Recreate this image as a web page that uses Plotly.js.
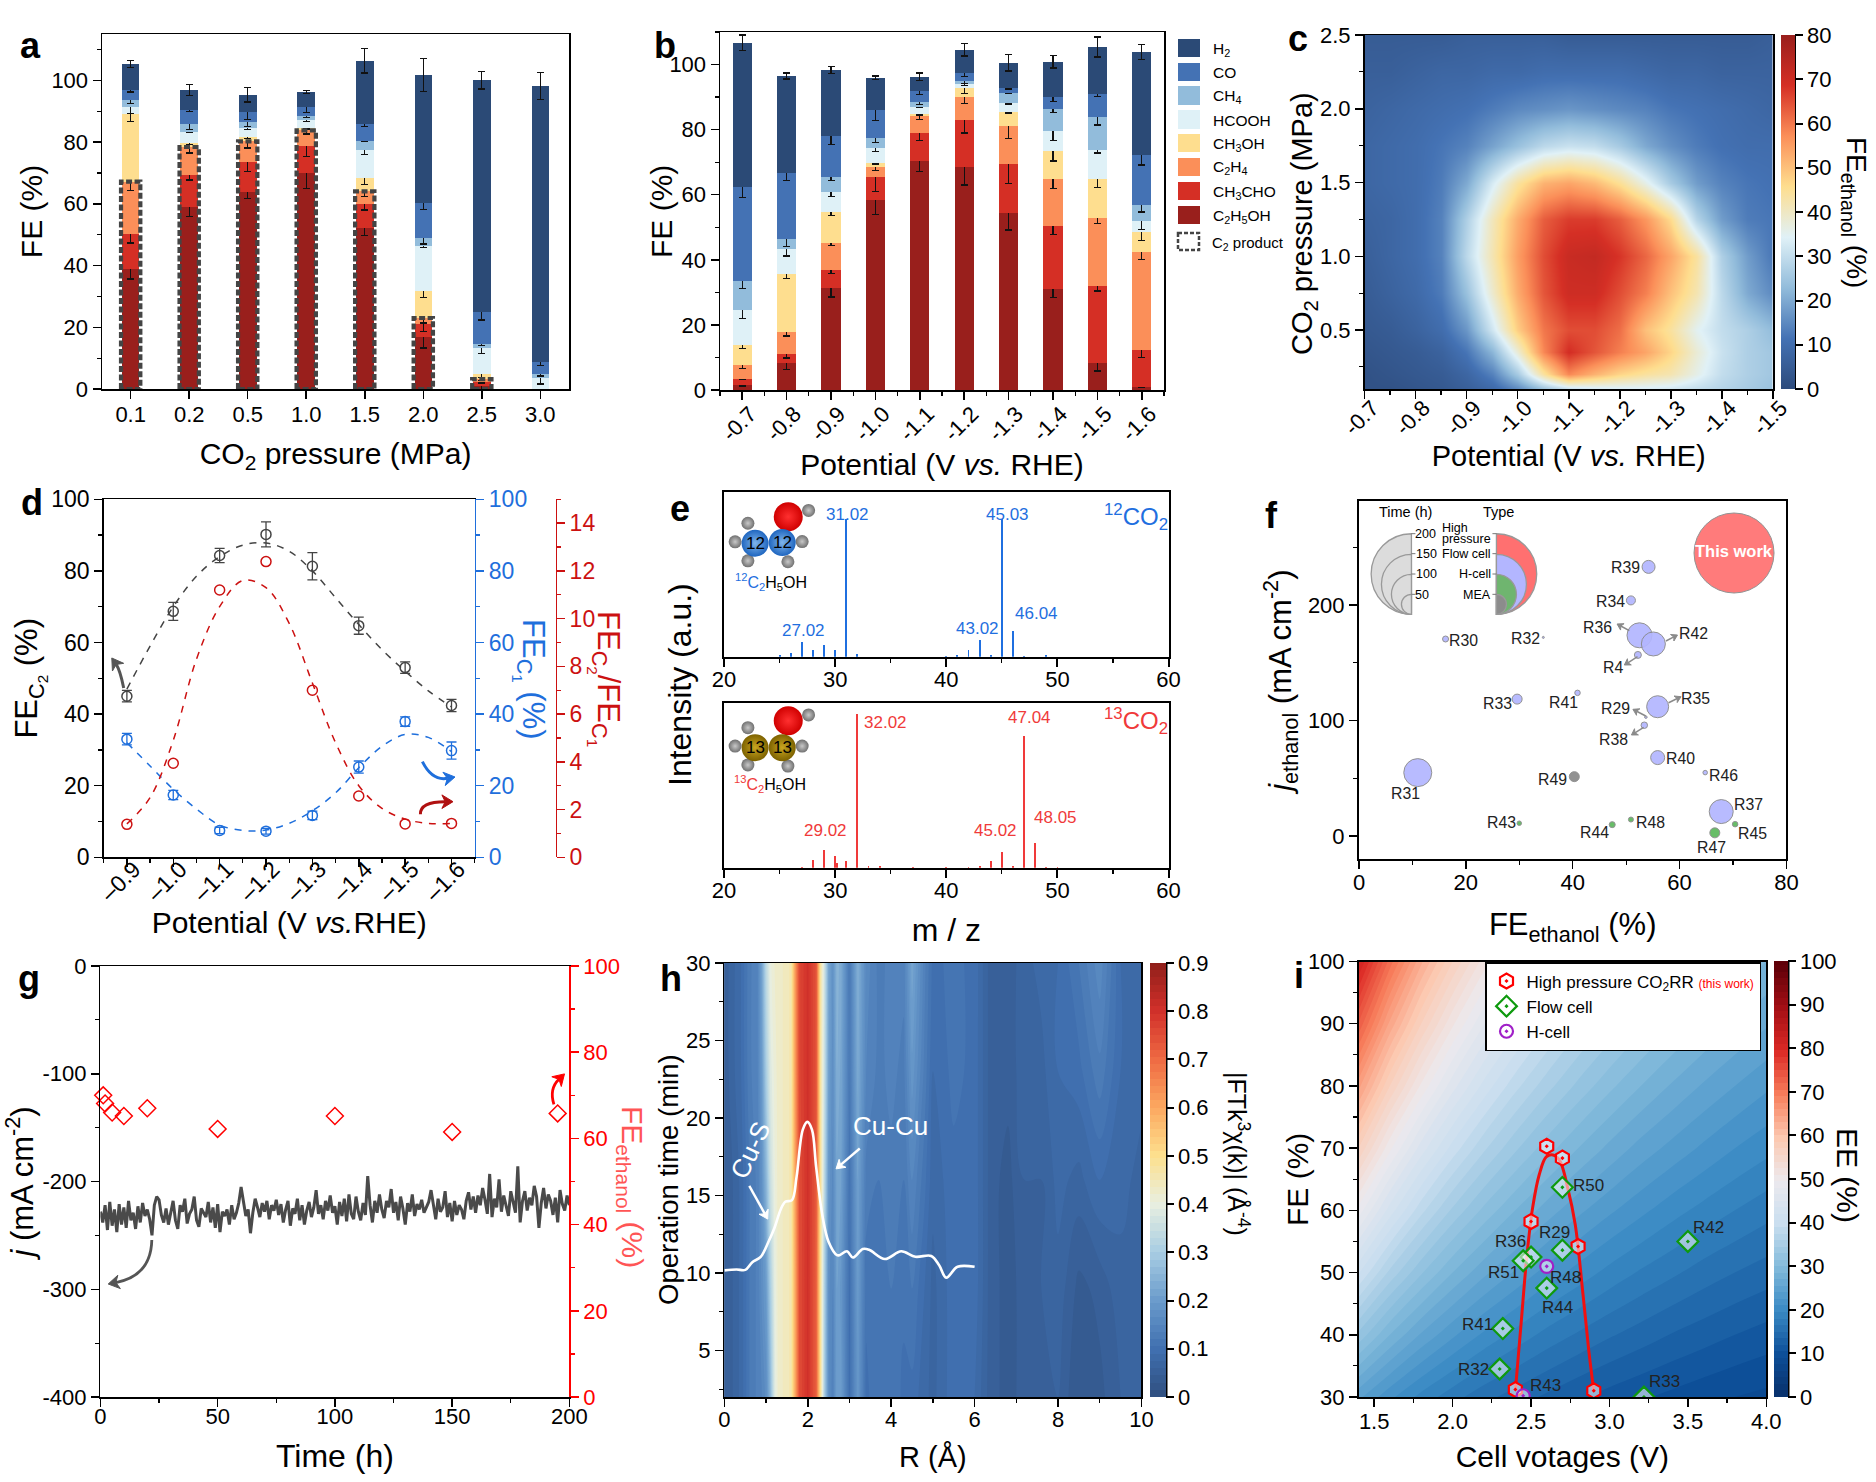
<!DOCTYPE html>
<html><head><meta charset="utf-8">
<script src="https://cdn.plot.ly/plotly-3.0.1.min.js"></script>
<style>html,body{margin:0;padding:0;background:#fff}#p{width:1876px;height:1482px}</style></head>
<body><div id="p"></div>
<script>
// ---------- DATA ----------
const productNames=['C2H5OH','CH3CHO','C2H4','CH3OH','HCOOH','CH4','CO','H2'];
const productColors=['#991f1c','#d52f25','#fb8f59','#fede8f','#dff1f7','#92bcdb','#4472b4','#2b4a76'];
const productLabels=['C<sub>2</sub>H<sub>5</sub>OH','CH<sub>3</sub>CHO','C<sub>2</sub>H<sub>4</sub>','CH<sub>3</sub>OH','HCOOH','CH<sub>4</sub>','CO','H<sub>2</sub>'];
// panel a
const aTicks=['0.1','0.2','0.5','1.0','1.5','2.0','2.5','3.0'];
const aC2H5OH=[38.9,59.0,63.9,70.1,52.3,17.0,1.0,0];
const aCH3CHO=[11.4,10.4,9.7,8.6,7.7,4.1,1.4,0];
const aC2H4=[16.9,9.0,6.6,5.1,4.0,1.9,0.8,0];
const aCH3OH=[21.9,1.2,1.5,0.8,4.4,8.8,1.8,0];
const aHCOOH=[2.1,3.7,2.8,2.4,9.1,14.4,8.3,3.7];
const aCH4=[2.4,2.6,2.0,1.5,2.9,2.8,1.2,1.3];
const aCO=[3.3,4.5,3.3,2.9,5.5,11.3,10.5,3.6];
const aH2=[8.4,6.5,5.5,4.8,20.4,41.4,75,89.5];
const aErrC2H5OH=[3.3,3.1,2.2,5.2,2.5,3.7,2.2,0];
const aErrCH3CHO=[3,1.7,3.1,3.3,2,2.5,0.5,0];
const aErrC2H4=[2.8,1.9,2.1,1.2,1.7,1.6,0.4,0];
const aErrCH3OH=[2.4,0.5,0.6,0.4,2.1,2.2,1.2,0];
const aErrHCOOH=[2,0.3,0.5,0.4,1.5,0.3,1.7,2.1];
const aErrCH4=[1,1.9,1.5,0.5,0.2,2,0.3,0.8];
const aErrCO=[0.7,0.6,2.6,1.8,0.9,2.1,2.6,1];
const aErrH2=[1.2,1.8,2.3,0.5,3.9,5.3,2.8,4.4];
// panel b
const bTicks=['-0.7','-0.8','-0.9','-1.0','-1.1','-1.2','-1.3','-1.4','-1.5','-1.6'];
const bC2H5OH=[1.6,8.2,31.2,58.3,70.3,68.5,54.3,30.9,8.2,1.0];
const bCH3CHO=[1.9,3.0,5.6,7.1,8.7,14.5,15.1,19.4,23.9,11.4];
const bC2H4=[4.3,6.5,8.3,3.1,5.2,7.0,11.7,14.5,20.7,29.9];
const bCH3OH=[6.1,17.8,9.5,1.2,0.6,2.8,4.3,8.6,12.0,6.2];
const bHCOOH=[10.8,7.7,6.2,4.6,2.2,1.2,2.8,6.2,8.9,3.3];
const bCH4=[8.7,3.1,4.6,3.1,1.5,1.0,3.1,6.7,10.2,5.0];
const bCO=[28.9,20.3,12.6,8.6,3.4,2.4,1.5,3.7,7.1,15.4];
const bH2=[44.4,29.9,20.4,9.9,4.3,7.1,7.7,10.8,14.4,31.7];
const bErrC2H5OH=[0.4,1.9,2.6,4.3,3.2,5.5,5.1,2.4,2.4,0.3];
const bErrCH3CHO=[0.3,1.4,1.1,4.4,2.4,4.0,6.0,2.6,1.7,2.4];
const bErrC2H4=[1.2,1.1,0.8,1.0,1.0,2.0,3.8,2.9,1.7,2.3];
const bErrCH3OH=[1.1,1.3,1.0,0.3,0.3,1.8,0.3,3.0,2.5,2.5];
const bErrHCOOH=[2.8,2.0,1.4,1.1,0.3,0.4,0.3,3.0,0.9,2.5];
const bErrCH4=[2.2,2.1,1.0,1.3,0.7,0.8,0.3,1.0,2.5,2.1];
const bErrCO=[3.1,2.3,2.5,3.1,1.2,1.0,0.3,1.3,0.9,3.1];
const bErrH2=[2.4,0.9,1.1,0.6,1.2,1.9,2.5,1.9,3.1,2.3];
// panel c
const cPotential=[-0.7,-0.75,-0.8,-0.85,-0.9,-0.95,-1,-1.05,-1.1,-1.15,-1.2,-1.25,-1.3,-1.35,-1.4,-1.45,-1.5];
const cPressure=[0.1,0.2,0.35,0.5,0.75,1,1.25,1.5,1.75,2,2.25,2.5];
const cFE=[
[2,2,3,4,6,9,15,24,30,32,33,33,32,30,28,26,24],
[2,3,4,5,8,14,26,44,58,52,47,44,42,36,30,27,25],
[3,4,5,7,12,22,38,58,69,64,59,54,47,38,31,27,25],
[4,5,7,10,17,32,48,60,65,65,61,50,44,35,30,27,23],
[5,7,9,13,24,39,53,64,70,70,65,59,50,42,29,20,15],
[6,8,10,14,29,42,55,65,71,72,68,62,54,44,27,18,12],
[7,8,10,14,27,41,53,63,67,67,63,56,46,28,18,13,12],
[8,9,10,13,20,33,44,52,54,51,45,36,26,18,14,12,11],
[8,9,10,12,14,19,24,29,31,30,26,20,16,13,11,10,10],
[7,8,9,10,11,13,15,16,17,16,15,14,12,11,10,9,8],
[6,6,7,8,8,9,9,10,10,10,10,9,8,8,7,7,7],
[5,5,5,5,6,6,6,6,5,5,5,5,5,5,5,5,6]];
const cxTicks=['-0.7','-0.8','-0.9','-1.0','-1.1','-1.2','-1.3','-1.4','-1.5'];
const cxTickVals=[-0.7,-0.8,-0.9,-1.0,-1.1,-1.2,-1.3,-1.4,-1.5];
// panel d
const dV=[-0.9,-1.0,-1.1,-1.2,-1.3,-1.4,-1.5,-1.6];
const dTicks=['\u20130.9','\u20131.0','\u20131.1','\u20131.2','\u20131.3','\u20131.4','\u20131.5','\u20131.6'];
const dC2=[45,68.7,84.3,90.2,81.3,64.7,53,42.4];
const dC2Err=[1.6,2.5,2,3.5,3.8,2.4,1.6,1.7];
const dC1=[33,17.4,7.5,7.3,11.7,25.2,37.9,29.8];
const dC1Err=[1.6,1.3,0.9,0.8,1.2,1.7,1.3,2.4];
const dRatio=[1.38,3.94,11.2,12.39,7.0,2.57,1.4,1.42];
const dFitV=[-0.9,-0.95,-1,-1.05,-1.1,-1.15,-1.2,-1.25,-1.3,-1.35,-1.4,-1.45,-1.5,-1.55,-1.6];
const dFitC2=[47,59,70,78.5,84,87.2,87.8,85.5,80,72.5,65,58,52,46.5,42];
const dFitC1=[32,25.5,19,13.5,9,7.5,7.6,9.5,13,18,25,31,34.3,33.5,29.5];
const dFitRatio=[1.4,2.5,4.9,8.3,10.5,11.6,11.3,9.8,7.3,4.8,3.0,2.05,1.6,1.42,1.42];
// panel e
const e12mz=[25,26,27,28,29,30,31,32,40,41,42,43,44,45,46,47,49];
const e12I=[1,2.6,10.5,5,8.5,5,100,2,0.5,1,5,12,1.5,100,19,0.5,1];
const e13mz=[27,28,29,30,30.2,31,32,33,34,37,40,42,43,44,45,46,47,48,49,50];
const e13I=[0.6,5,11.5,7.5,3,4.5,100,1,1,0.7,0.7,0.6,1,4.5,10,1,86,16,0.5,0.3];
// panel f
const fNames=['This work','R39','R34','R30','R32','R36','R42','R4','R33','R41','R35','R29','R38','R40','R46','R49','R31','R37','R45','R47','R44','R48','R43'];
const fFE=[70.2,54.2,50.9,16.2,34.5,52.5,55.1,52.2,29.6,40.9,55.9,53.7,53.4,55.9,64.8,40.3,11,67.8,70.4,66.6,47.4,50.9,30];
const fJ=[245,233,204,170.6,172,173.8,166.3,156.8,118.6,124,112,103,96,68,55,51.5,55,21.3,10.4,2.9,10,14.4,11.2];
const fTime=[80,13,9,6,2,25,24,7,10,5.5,22,2.5,6.5,14,4.5,10,28,24,5.5,10,6,5,4.5];
const fType=['red','flow','flow','flow','flow','flow','flow','flow','flow','flow','flow','flow','flow','flow','flow','mea','flow','flow','h','h','h','h','h'];
// panel g
const gJ=[-228,-238,-222,-245,-219,-241,-226,-247,-221,-240,-224,-243,-218,-236,-229,-244,-223,-238,-220,-232,
-226,-235,-250,-222,-214,-217,-231,-238,-225,-240,-229,-218,-236,-244,-222,-228,-216,-239,-230,-226,
-214,-236,-242,-225,-229,-233,-219,-238,-224,-243,-221,-247,-228,-232,-226,-240,-222,-235,-229,-220,
-205,-218,-232,-226,-248,-229,-216,-224,-233,-220,-228,-218,-235,-222,-227,-217,-231,-221,-238,-226,
-218,-241,-225,-230,-216,-236,-222,-240,-227,-219,-233,-224,-208,-230,-222,-235,-218,-227,-213,-229,
-223,-240,-219,-232,-216,-237,-212,-230,-235,-214,-228,-236,-220,-231,-195,-222,-238,-218,-229,-212,
-226,-234,-218,-224,-207,-229,-219,-236,-214,-225,-240,-220,-228,-212,-232,-221,-226,-217,-229,-224,
-219,-208,-222,-235,-216,-228,-224,-209,-233,-220,-237,-218,-231,-222,-226,-235,-218,-210,-226,-214,
-229,-213,-222,-206,-217,-230,-193,-233,-216,-224,-198,-228,-213,-222,-232,-209,-220,-229,-186,-238,
-218,-209,-227,-215,-222,-204,-214,-243,-220,-206,-225,-212,-218,-231,-215,-238,-208,-221,-227,-213,-222];
const gTime=gJ.map((_,i)=>i);
const gFEt=[1.2,2,5,10,20,50,100,150,195];
const gFE=[70,68.1,66,65.2,67,62.2,65.2,61.5,65.8];
const gYTicks=['-400','-300','-200','-100','0'];
const gYVals=[-400,-300,-200,-100,0];
// panel h
const hR=[0,0.2,0.4,0.6,0.8,0.9,1,1.1,1.2,1.3,1.5,1.6,1.7,1.8,2,2.2,2.3,2.4,2.5,2.6,2.7,2.8,3,3.2,3.4,3.7,4,4.3,4.5,4.8,5,5.5,6,6.4,6.8,7.2,7.6,8,8.5,9,9.5,10];
const hT=[2,9,16,23,30];
const hZ=[
[.05,.06,.08,.12,.14,.15,.17,.25,.38,.43,.44,.46,.60,.75,.80,.72,.50,.30,.17,.14,.21,.20,.10,.19,.10,.12,.12,.10,.10,.08,.07,.10,.09,.05,.04,.05,.05,.06,.03,.04,.06,.07],
[.05,.06,.08,.12,.14,.17,.20,.30,.39,.43,.44,.46,.60,.75,.80,.72,.49,.31,.17,.15,.21,.19,.10,.20,.11,.12,.12,.11,.12,.09,.07,.10,.10,.05,.04,.05,.06,.07,.04,.05,.07,.07],
[.05,.06,.08,.12,.14,.18,.25,.35,.40,.43,.44,.46,.61,.75,.80,.73,.49,.33,.19,.16,.22,.21,.11,.21,.13,.12,.13,.12,.15,.11,.08,.10,.10,.05,.04,.06,.06,.08,.07,.09,.08,.07],
[.05,.07,.09,.13,.15,.20,.30,.38,.41,.43,.44,.46,.62,.76,.80,.74,.48,.35,.21,.17,.24,.22,.12,.23,.15,.13,.14,.13,.19,.13,.09,.11,.10,.05,.05,.07,.07,.09,.10,.13,.09,.08],
[.05,.07,.09,.13,.15,.22,.33,.40,.42,.43,.44,.46,.62,.76,.80,.74,.48,.36,.22,.18,.25,.23,.12,.24,.16,.13,.14,.14,.22,.14,.10,.11,.10,.05,.05,.07,.08,.09,.12,.16,.09,.08]];
const hCurveR=[0,.29,.5,.67,.87,1.06,1.2,1.35,1.46,1.62,1.73,1.88,1.99,2.1,2.2,2.36,2.5,2.7,2.76,2.94,3.08,3.32,3.47,3.85,4.24,4.58,4.96,5.15,5.32,5.59,6];
const hCurveT=[10.17,10.23,10.2,10.7,11.04,12.03,12.9,14.1,14.6,14.7,16.2,19.25,19.75,19.25,16.85,13.55,12,11.15,11.15,11.4,11,11.55,11.5,10.9,11.4,11.05,11.1,10.5,9.7,10.4,10.4];
// panel i
const iV=[1.4,1.6,1.8,2.0,2.2,2.4,2.6,2.8,3.0,3.2,3.4,3.6,3.8,4.0];
const iFEgrid=[30,40,50,60,70,80,90,100];
const iEE=[
[24.4,21.4,19,17.1,15.5,14.3,13.2,12.2,11.4,10.7,10.1,9.5,9,8.6],
[32.6,28.5,25.3,22.8,20.7,19,17.5,16.3,15.2,14.3,13.4,12.7,12,11.4],
[40.7,35.6,31.7,28.5,25.9,23.8,21.9,20.4,19,17.8,16.8,15.8,15,14.3],
[48.9,42.8,38,34.2,31.1,28.5,26.3,24.4,22.8,21.4,20.1,19,18,17.1],
[57,49.9,44.3,39.9,36.3,33.3,30.7,28.5,26.6,24.9,23.5,22.2,21,20],
[65.1,57,50.7,45.6,41.5,38,35.1,32.6,30.4,28.5,26.8,25.3,24,22.8],
[73.3,64.1,57,51.3,46.6,42.8,39.5,36.6,34.2,32.1,30.2,28.5,27,25.7],
[81.4,71.3,63.3,57,51.8,47.5,43.8,40.7,38,35.6,33.5,31.7,30,28.5]];
const iHighV=[2.4,2.5,2.6,2.7,2.8,2.9];
const iHighFE=[31.2,58.2,70.3,68.4,54.2,31.0];
const iFlowV=[2.7,2.7,2.5,2.45,2.6,2.32,2.3,3.5,3.22];
const iFlowFE=[63.7,53.6,52.5,51.9,47.5,41,34.5,55,30];
const iHV=[2.6,2.45];
const iHFE=[51,30.2];
const iCurveV=[2.4,2.437,2.474,2.51,2.553,2.597,2.64,2.683,2.733,2.782,2.83,2.868,2.9];
const iCurveFE=[31,41.9,52.8,60.4,65.8,68.6,68.9,68,63.7,57.7,46.8,37.5,31];

// ---------- HELPERS ----------
const W=1876,H=1482,F='"Liberation Sans",Arial,sans-serif';
const xd=(l,r)=>[l/W,r/W], yd=(t,b)=>[1-b/H,1-t/H];
const PX=(x,y)=>`${(x/W).toFixed(5)},${(1-y/H).toFixed(5)}`;
function axis(o){return Object.assign({showgrid:false,zeroline:false,showline:true,linecolor:'#000',linewidth:1.5,ticks:'outside',ticklen:8,tickwidth:1.5,tickcolor:'#000',tickfont:{family:F,size:22,color:'#000'},automargin:false},o);}
const tt=(text,standoff,color,size)=>({text,standoff,font:{family:F,size:size||30,color:color||'#000'}});
const minor=(dtick,tick0,len,color)=>({ticks:'outside',dtick,tick0,ticklen:len||4,tickwidth:1.2,tickcolor:color||'#000'});
const ann=(text,x,y,size,color,o)=>Object.assign({text,x:x/W,y:1-y/H,xref:'paper',yref:'paper',showarrow:false,font:{family:F,size,color:color||'#000'},xanchor:'center',yanchor:'middle'},o||{});
const letter=(t,x,y)=>ann('<b>'+t+'</b>',x,y,36);
function curved(x0,y0,cx,cy,x1,y1,color,w,L){
  L=L||13;const a=Math.atan2(y1-cy,x1-cx),S=0.55;
  const p1=[x1-L*Math.cos(a-S),y1-L*Math.sin(a-S)],p2=[x1-L*Math.cos(a+S),y1-L*Math.sin(a+S)],m=[x1-L*.6*Math.cos(a),y1-L*.6*Math.sin(a)];
  return [{type:'path',xref:'paper',yref:'paper',line:{color,width:w},path:`M${PX(x0,y0)} Q${PX(cx,cy)} ${PX(m[0],m[1])}`},
          {type:'path',xref:'paper',yref:'paper',fillcolor:color,line:{color,width:1},path:`M${PX(x1,y1)} L${PX(p1[0],p1[1])} L${PX(m[0],m[1])} L${PX(p2[0],p2[1])} Z`}];
}
const straight=(x0,y0,x1,y1,color,w,L)=>curved(x0,y0,(x0+x1)/2,(y0+y1)/2,x1,y1,color,w,L);
function semi(cx,b,r,s,fill,line){const k=.5523*r,t=b-2*r,m=b-r;
  return {type:'path',xref:'paper',yref:'paper',fillcolor:fill,line:{color:line||'#999',width:1.3},
    path:`M${PX(cx,t)} C${PX(cx+s*k,t)} ${PX(cx+s*r,m-k)} ${PX(cx+s*r,m)} C${PX(cx+s*r,m+k)} ${PX(cx+s*k,b)} ${PX(cx,b)} Z`};}
const rect=(x0,y0,x1,y1,o)=>Object.assign({type:'rect',xref:'paper',yref:'paper',x0:x0/W,x1:x1/W,y0:1-y0/H,y1:1-y1/H,line:{width:0}},o);
const seg=(x0,y0,x1,y1,c,w)=>({type:'line',xref:'paper',yref:'paper',x0:x0/W,x1:x1/W,y0:1-y0/H,y1:1-y1/H,line:{color:c||'#000',width:w||1.5}});

const traces=[],shapes=[],annotations=[];
const layout={width:W,height:H,margin:{l:0,r:0,t:0,b:0,autoexpand:false},paper_bgcolor:'#fff',plot_bgcolor:'rgba(0,0,0,0)',barmode:'stack',showlegend:true,
 font:{family:F,color:'#000'},hovermode:false};

function stacked(x,ax,ay,series,errs,width){
  series.forEach((v,k)=>traces.push({type:'bar',name:productNames[k],x,y:v,xaxis:ax,yaxis:ay,width,showlegend:false,marker:{color:productColors[k],line:{width:0}},
    error_y:{type:'data',array:errs[k],visible:true,color:'#111',thickness:1.3,width:3.5}}));
}
// ---------- a ----------
const aIdx=aTicks.map((_,i)=>i);
const aS=[aC2H5OH,aCH3CHO,aC2H4,aCH3OH,aHCOOH,aCH4,aCO,aH2];
stacked(aIdx,'x','y',aS,[aErrC2H5OH,aErrCH3CHO,aErrC2H4,aErrCH3OH,aErrHCOOH,aErrCH4,aErrCO,aErrH2],0.3);
(function(){const bx=[],by=[];aIdx.forEach(i=>{const T=aC2H5OH[i]+aCH3CHO[i]+aC2H4[i];if(T<=0)return;const h=.165;
  bx.push(i-h,i-h,i+h,i+h,i-h,null);by.push(0,T,T,0,0,null);});
  traces.push({type:'scatter',mode:'lines',name:'C2 product',x:bx,y:by,xaxis:'x',yaxis:'y',showlegend:false,cliponaxis:false,line:{color:'#444',width:4.2,dash:'6px,2.5px'}});})();
layout.xaxis=axis({domain:xd(102,569),range:[-.49,7.49],anchor:'y',mirror:true,tickmode:'array',tickvals:aIdx,ticktext:aTicks,ticklabelstandoff:-3,title:tt('CO<sub>2</sub> pressure (MPa)',17)});
layout.yaxis=axis({domain:yd(34,389),range:[0,115],anchor:'x',mirror:true,dtick:20,tick0:0,minor:minor(10,0),title:tt('FE (%)',0)});
annotations.push(letter('a',30,45));
// ---------- b ----------
const bIdx=bTicks.map((_,i)=>i);
stacked(bIdx,'x2','y2',[bC2H5OH,bCH3CHO,bC2H4,bCH3OH,bHCOOH,bCH4,bCO,bH2],[bErrC2H5OH,bErrCH3CHO,bErrC2H4,bErrCH3OH,bErrHCOOH,bErrCH4,bErrCO,bErrH2],0.43);
layout.xaxis2=axis({domain:xd(720,1164),range:[-.5,9.5],anchor:'y2',mirror:true,tickmode:'array',tickvals:bIdx,ticktext:bTicks,tickangle:-45,ticklabelstandoff:-7,ticklabelshift:8,minor:minor(1,-.5),title:tt('Potential (V <i>vs.</i> RHE)',9)});
layout.yaxis2=axis({domain:yd(32,390),range:[0,110],anchor:'x2',mirror:true,dtick:20,tick0:0,minor:minor(10,0)});
annotations.push(ann('FE (%)',661,212,30,'#000',{textangle:-90}));
annotations.push(letter('b',665,45));
[[39,57],[63,81],[86,105],[110,129],[134,152],[158,176],[182,200],[206,224]].forEach((yy,i)=>{
  const k=7-i;shapes.push(rect(1178,yy[0],1200,yy[1],{fillcolor:productColors[k]}));
  annotations.push(ann(productLabels[k],1211,(yy[0]+yy[1])/2+1,15.5,'#000',{xanchor:'left'}));
});
shapes.push(rect(1178,233,1199,250,{fillcolor:'rgba(0,0,0,0)',line:{color:'#444',width:2.5,dash:'4px,2px'}}));
annotations.push(ann('C<sub>2</sub> product',1210,243,15,'#000',{xanchor:'left'}));
// ---------- c ----------
const seq=[[0,'#2d4b7c'],[1/7,'#4472b4'],[2/7,'#92bcdb'],[3/7,'#e0f1f7'],[4/7,'#fede8f'],[5/7,'#fb8f59'],[6/7,'#d52f25'],[1,'#991f1c']];
const cbBase=(o)=>Object.assign({thicknessmode:'pixels',lenmode:'fraction',xanchor:'left',yanchor:'bottom',xpad:0,ypad:0,outlinewidth:0,ticks:'outside',ticklen:8,tickwidth:2,tickcolor:'#000',tickfont:{family:F,size:22,color:'#000'}},o);
traces.push({type:'heatmap',x:cPotential,y:cPressure,z:cFE,xaxis:'x3',yaxis:'y3',zsmooth:'best',zmin:0,zmax:80,colorscale:seq,showlegend:false,
  colorbar:cbBase({x:1781/W,y:1-389/H,len:354/H,thickness:14,dtick:10,tick0:0})});
layout.xaxis3=axis({domain:xd(1364.5,1773),range:[-.7,-1.5],anchor:'y3',mirror:true,tickmode:'array',tickvals:cxTickVals,ticktext:cxTicks,tickangle:-45,ticklabelstandoff:-12,ticklabelshift:-8,minor:{ticks:'outside',tickmode:'array',tickvals:[-.75,-.85,-.95,-1.05,-1.15,-1.25,-1.35,-1.45],ticklen:4,tickwidth:1.2,tickcolor:'#000'},title:tt('Potential (V <i>vs.</i> RHE)',2,'#000',29)});
layout.yaxis3=axis({domain:yd(35,389),range:[.1,2.5],anchor:'x3',mirror:true,dtick:.5,tick0:0,tickformat:'.1f',minor:minor(.25,0)});
annotations.push(ann('CO<sub>2</sub> pressure (MPa)',1304,224,29,'#000',{textangle:-90}));
annotations.push(ann('FE<sub>ethanol</sub> (%)',1855,212,28,'#000',{textangle:90}));
shapes.push(seg(1795,35,1795,389,'#000',2));
annotations.push(letter('c',1298,38));
// ---------- d ----------
const grey='#444',blue='#1f6fdc',red='#cc1111';
const erb=(arr,c)=>({type:'data',array:arr,visible:true,color:c,thickness:1.3,width:5});
traces.push({type:'scatter',mode:'lines',x:dFitV,y:dFitC2,xaxis:'x4',yaxis:'y4',showlegend:false,line:{color:grey,width:1.5,dash:'7px,7px',shape:'spline'}});
traces.push({type:'scatter',mode:'markers',name:'FE C2',x:dV,y:dC2,xaxis:'x4',yaxis:'y4',showlegend:false,marker:{symbol:'circle-open',size:10,color:grey,line:{width:1.5,color:grey}},error_y:erb(dC2Err,grey)});
traces.push({type:'scatter',mode:'lines',x:dFitV,y:dFitC1,xaxis:'x4',yaxis:'y5',showlegend:false,line:{color:blue,width:1.5,dash:'7px,7px',shape:'spline'}});
traces.push({type:'scatter',mode:'markers',name:'FE C1',x:dV,y:dC1,xaxis:'x4',yaxis:'y5',showlegend:false,marker:{symbol:'circle-open',size:10,color:blue,line:{width:1.5,color:blue}},error_y:erb(dC1Err,blue)});
traces.push({type:'scatter',mode:'lines',x:dFitV,y:dFitRatio,xaxis:'x4',yaxis:'y6',showlegend:false,line:{color:red,width:1.5,dash:'7px,7px',shape:'spline'}});
traces.push({type:'scatter',mode:'markers',name:'FE C2/FE C1',x:dV,y:dRatio,xaxis:'x4',yaxis:'y6',showlegend:false,marker:{symbol:'circle-open',size:10,color:red,line:{width:1.5,color:red}}});
const dFont=(c)=>({family:F,size:23,color:c});
layout.xaxis4=axis({domain:xd(103.7,474.7),range:[-.85,-1.65],anchor:'y4',mirror:true,tickmode:'array',tickvals:dV,ticktext:dTicks,tickangle:-45,ticklabelstandoff:-20,ticklabelshift:-7,tickfont:dFont('#000'),minor:{ticks:'outside',tickmode:'array',tickvals:[-.85,-.95,-1.05,-1.15,-1.25,-1.35,-1.45,-1.55,-1.65],ticklen:4,tickwidth:1.2,tickcolor:'#000'},title:tt('Potential (V <i>vs.</i>RHE)',0)});
layout.yaxis4=axis({domain:yd(499.3,857.3),range:[0,100],anchor:'x4',dtick:20,tick0:0,tickfont:dFont('#000'),minor:minor(10,0),title:tt('FE<sub>C<sub>2</sub></sub> (%)',4,'#000',31)});
layout.yaxis5=axis({domain:yd(499.3,857.3),range:[0,100],overlaying:'y4',anchor:'x4',side:'right',linecolor:blue,tickcolor:blue,tickfont:dFont(blue),dtick:20,tick0:0,minor:minor(10,0,4,blue)});
layout.yaxis6=axis({domain:yd(499.3,857.3),range:[0,15],overlaying:'y4',anchor:'free',position:555.5/W,side:'right',linecolor:red,tickcolor:red,tickfont:dFont(red),dtick:2,tick0:0,minor:minor(1,0,4,red)});
annotations.push(ann('FE<sub>C<sub>1</sub></sub> (%)',530,679,31,blue,{textangle:90}));
annotations.push(ann('FE<sub>C<sub>2</sub></sub>/FE<sub>C<sub>1</sub></sub>',605,679,31,red,{textangle:90}));
annotations.push(letter('d',32,503));
shapes.push(...curved(123.7,688,120,670,111.8,658,'#555',3));
shapes.push(...curved(422.4,761.7,432,781,455,777,'#1f6fdc',3));
shapes.push(...curved(420.4,814.3,420,801.7,453,801.7,'#b01010',3));
// ---------- e ----------
const eBlue='#1f6fe0',eRed='#f03a3a';
traces.push({type:'bar',name:'12CO2',x:e12mz,y:e12I,xaxis:'x5',yaxis:'y7',width:.17,showlegend:false,marker:{color:eBlue,line:{width:0}}});
traces.push({type:'bar',name:'13CO2',x:e13mz,y:e13I,xaxis:'x6',yaxis:'y8',width:.17,showlegend:false,marker:{color:eRed,line:{width:0}}});
const eFrame={linewidth:2.2,mirror:true,range:[20,60],dtick:10,tick0:0,tickwidth:2,ticklabelstandoff:-6,minor:minor(5,0,4)};
layout.xaxis5=axis(Object.assign({domain:xd(724,1168.6),anchor:'y7'},eFrame));
layout.yaxis7=axis({domain:yd(492,656.7),range:[0,119.7],anchor:'x5',mirror:true,linewidth:2.2,ticks:'',showticklabels:false});
layout.xaxis6=axis(Object.assign({domain:xd(724,1168.6),anchor:'y8',title:tt('m / z',16,'#000',32)},eFrame));
layout.yaxis8=axis({domain:yd(702.7,867.7),range:[0,107.6],anchor:'x6',mirror:true,linewidth:2.2,ticks:'',showticklabels:false});
const molX={O:25.78,Oh:27.61,C:[22.8,25.24],H:[22.15,21,22.15,27.03,25.75]};
const molY12={O:101.7,Oh:106.3,C:[82.5,83],H:[97,83.5,69.7,83.7,69]};
const molY13={O:95.9,Oh:99.6,C:[78.3,78.3],H:[91.3,79.3,67,79.3,66.3]};
function mol(ax,ay,my,cOuter,cInner){
  const m=(x,y,size,c,g)=>traces.push({type:'scatter',mode:'markers',x,y,xaxis:ax,yaxis:ay,showlegend:false,marker:{size,color:c,gradient:{type:'radial',color:g},line:{width:0}}});
  m(molX.H,my.H,13,'#707070','#c8c8c8');m([molX.Oh],[my.Oh],13,'#707070','#c8c8c8');
  m([molX.O],[my.O],29,'#d00000','#ff3030');
  m(molX.C,my.C,27,cOuter,cInner);
}
mol('x5','y7',molY12,'#1f66c0','#7fb4ea');
mol('x6','y8',molY13,'#7d6200','#c9a520');
const ex=z=>650+z/2.8, ey=z=>480+z/3;
[['31.02',552,103],['45.03',1000,103],['27.02',431,452],['43.02',917,445],['46.04',1081,401]].forEach(a=>annotations.push(ann(a[0],ex(a[1]),ey(a[2]),17,eBlue)));
[['32.02',660,727],['47.04',1063,712],['29.02',491,1051],['45.02',968,1051],['48.05',1135,1013]].forEach(a=>annotations.push(ann(a[0],ex(a[1]),ey(a[2]),17,eRed)));
annotations.push(ann('<sup>12</sup>CO<sub>2</sub>',ex(1360),ey(112),24,eBlue));
annotations.push(ann('<sup>13</sup>CO<sub>2</sub>',ex(1360),ey(722),24,eRed));
annotations.push(ann(`<span style="color:${eBlue}"><sup>12</sup>C<sub>2</sub></span>H<sub>5</sub>OH`,ex(338),ey(307),16));
annotations.push(ann(`<span style="color:${eRed}"><sup>13</sup>C<sub>2</sub></span>H<sub>5</sub>OH`,ex(336),ey(913),16));
[[294,190,'12'],[370,188,'12'],[294,803,'13'],[370,803,'13']].forEach(a=>annotations.push(ann(a[2],ex(a[0]),ey(a[1]),17)));
annotations.push(ann('Intensity (a.u.)',680,685,32,'#000',{textangle:-90}));
annotations.push(letter('e',680,508));
// ---------- f ----------
const fColors={red:'#ff7070',flow:'#b3b6ff',mea:'#888888',h:'#5cb85c'};
traces.push({type:'scatter',mode:'markers',name:'Literature',x:fFE,y:fJ,text:fNames,xaxis:'x7',yaxis:'y9',showlegend:false,
  marker:{size:fTime,sizemode:'diameter',color:fType.map(t=>fColors[t]),opacity:.92,line:{color:'#8a8a8a',width:1}}});
layout.xaxis7=axis({domain:xd(1359,1786.4),range:[0,80],anchor:'y9',mirror:true,linewidth:2,dtick:20,tick0:0,ticklabelstandoff:-6,minor:minor(10,0),title:tt('FE<sub>ethanol</sub> (%)',20,'#000',31)});
layout.yaxis9=axis({domain:yd(501,859.3),range:[-20,290],anchor:'x7',mirror:true,linewidth:2,dtick:100,tick0:0,minor:minor(50,0),title:tt('<i>j</i><sub>ethanol</sub> (mA cm<sup>-2</sup>)',7,'#000',31)});
const fx=z=>1250+z/2.8, fy=z=>480+z/3;
[['R39',1050,262],['R34',1008,364],['R30',598,481],['R32',770,475],['R36',974,441],['R42',1243,462],['R4',1017,562],['R33',692,669],['R41',877,667],['R35',1248,654],['R29',1022,684],['R38',1019,777],['R40',1206,836],['R46',1325,885],['R49',848,897],['R31',434,942],['R37',1397,972],['R45',1408,1059],['R47',1291,1104],['R44',965,1056],['R48',1120,1026],['R43',703,1026]].forEach(a=>annotations.push(ann(a[0],fx(a[1]),fy(a[2]),15.8,'#222')));
annotations.push(ann('<b>This work</b>',fx(1355),fy(212),16.5,'#fff'));
[[1629.3,630.7,1617.1,624],[1666,641,1677.5,635],[1637.5,656.7,1624.3,665],[1668.6,702.7,1681,696.7],[1645.7,716,1632.9,709.3],[1643.6,727.3,1631.4,735]].forEach(a=>shapes.push(...straight(a[0],a[1],a[2],a[3],'#8a8a8a',1.5,7)));
const fb=fy(403),fcl=fx(452),fcr=fx(690);
[40.3,30,20,10].forEach(r=>shapes.push(semi(fcl,fb,r,-1,'#dcdcdc','#999')));
[[40.3,'#ff7070'],[30,'#b3b6ff'],[20,'#6fb56f'],[10,'#8c8c8c']].forEach(a=>shapes.push(semi(fcr,fb,a[0],1,a[1],'#999')));
[161,221,282,343].forEach(zy=>{shapes.push(seg(fcl,fy(zy),fcl+4,fy(zy),'#777',1));shapes.push(seg(fcr-4,fy(zy),fcr,fy(zy),'#777',1));});
annotations.push(ann('Time (h)',fx(434),fy(97),14.5),ann('Type',fx(695),fy(97),14.5));
[['200',491,161],['150',493,221],['100',493,283],['50',482,344]].forEach(a=>annotations.push(ann(a[0],fx(a[1]),fy(a[2]),12.5)));
[['High',575,145],['pressure',607,178],['Flow cell',607,221],['H-cell',630,282],['MEA',635,344]].forEach(a=>annotations.push(ann(a[0],fx(a[1]),fy(a[2]),12.5)));
annotations.push(letter('f',1271,515));
// ---------- g ----------
traces.push({type:'scatter',mode:'lines',name:'j',x:gTime,y:gJ,xaxis:'x8',yaxis:'y10',showlegend:false,line:{color:'#4a4a4a',width:3}});
traces.push({type:'scatter',mode:'markers',name:'FE ethanol',x:gFEt,y:gFE,xaxis:'x8',yaxis:'y11',showlegend:false,cliponaxis:false,marker:{symbol:'diamond-open',size:13,color:'#f00',line:{width:1.5,color:'#f00'}}});
layout.xaxis8=axis({domain:xd(100.4,569.4),range:[0,200],anchor:'y10',mirror:true,dtick:50,tick0:0,ticklabelstandoff:-9,minor:minor(25,0),title:tt('Time (h)',16,'#000',32)});
layout.yaxis10=axis({domain:yd(966,1397),range:[-400,0],anchor:'x8',tickmode:'array',tickvals:gYVals,ticktext:gYTicks,minor:minor(50,0),title:tt('<i>j</i> (mA cm<sup>-2</sup>)',6,'#000',31)});
layout.yaxis11=axis({domain:yd(966,1397),range:[0,100],anchor:'x8',overlaying:'y10',side:'right',linecolor:'#f00',tickcolor:'#f00',tickfont:{family:F,size:22,color:'#f00'},dtick:20,tick0:0,minor:minor(10,0,4,'#f00')});
annotations.push(ann('FE<sub>ethanol</sub> (%)',631,1187,30,'#f55',{textangle:90}));
shapes.push(...curved(151.8,1240,151,1275.8,108.2,1284,'#555',2.8));
shapes.push(...curved(553.9,1104.4,549,1089,564.5,1073.9,'#f00',2.8));
annotations.push(letter('g',29,979));
// ---------- h ----------
const hScale=[[0,'#2f4f7f'],[.111,'#4070b0'],[.222,'#6a9bcb'],[.333,'#a8cde3'],[.444,'#e8efe0'],[.556,'#fde08e'],[.667,'#fca860'],[.778,'#ef6a43'],[.889,'#d1302a'],[1,'#8f1f1a']];
traces.push({type:'contour',x:hR,y:hT,z:hZ,xaxis:'x9',yaxis:'y12',showlegend:false,colorscale:hScale,zmin:0,zmax:.9,autocontour:false,contours:{start:0,end:.9,size:.015,coloring:'fill',showlines:false},line:{width:0},
  colorbar:cbBase({x:1150/W,y:1-1397/H,len:434/H,thickness:16,dtick:.1,tick0:0})});
traces.push({type:'scatter',mode:'lines',name:'EXAFS',x:hCurveR,y:hCurveT,xaxis:'x9',yaxis:'y12',showlegend:false,line:{color:'#fff',width:2.6,shape:'spline'}});
layout.xaxis9=axis({domain:xd(724.4,1141.4),range:[0,10],anchor:'y12',mirror:true,dtick:2,tick0:0,ticklabelstandoff:-6,minor:minor(1,0),title:tt('R (\u00C5)',16,'#000',29)});
layout.yaxis12=axis({domain:yd(963,1397),range:[2,30],anchor:'x9',mirror:true,dtick:5,tick0:0,minor:minor(2.5,0)});
annotations.push(ann('Operation time (min)',668,1180,27.5,'#000',{textangle:-90}));
const hx=z=>640+z/2.489,hy=z=>950+z/2.947;
annotations.push(ann('Cu-S',hx(275),hy(590),26,'#fff',{textangle:-65}),ann('Cu-Cu',hx(623),hy(518),26,'#fff'));
annotations.push(ann('|FTk<sup>3</sup>\u03C7(k)| (\u00C5<sup>-4</sup>)',1238,1154,25,'#000',{textangle:90}));
shapes.push(...straight(hx(272),hy(695),hx(318),hy(793),'#fff',2.4,10),...straight(hx(547),hy(585),hx(488),hy(645),'#fff',2.4,10));
shapes.push(seg(1166.5,963,1166.5,1397,'#000',2));
annotations.push(letter('h',671,979));
// ---------- i ----------
const iScale=[[0,'#08306b'],[.1,'#0d4f99'],[.2,'#3a8ac4'],[.3,'#82badb'],[.4,'#c9deef'],[.5,'#ece9ee'],[.6,'#fcc8b0'],[.7,'#f87f5c'],[.8,'#dc2a26'],[.9,'#a50f15'],[1,'#5f0008']];
traces.push({type:'contour',x:iV,y:iFEgrid,z:iEE,xaxis:'x10',yaxis:'y13',showlegend:false,colorscale:iScale,zmin:0,zmax:100,autocontour:false,contours:{start:0,end:100,size:1.5,coloring:'fill',showlines:false},line:{width:0},
  colorbar:cbBase({x:1774/W,y:1-1397/H,len:436/H,thickness:14,dtick:10,tick0:0})});
traces.push({type:'scatter',mode:'lines',name:'fit',x:iCurveV,y:iCurveFE,xaxis:'x10',yaxis:'y13',showlegend:false,line:{color:'#f01010',width:3,shape:'spline'}});
const wf='rgba(255,255,255,.55)';
traces.push({type:'scatter',mode:'markers',name:'High pressure CO<sub>2</sub>RR <span style="color:#f00;font-size:12px">(this work)</span>',x:iHighV,y:iHighFE,xaxis:'x10',yaxis:'y13',marker:{symbol:'hexagon-dot',size:15,color:wf,line:{width:2.2,color:'#f00'}}});
traces.push({type:'scatter',mode:'markers',name:'Flow cell',x:iFlowV,y:iFlowFE,xaxis:'x10',yaxis:'y13',marker:{symbol:'diamond-dot',size:16,color:wf,line:{width:2.2,color:'#0e9a0e'}}});
traces.push({type:'scatter',mode:'markers',name:'H-cell',x:iHV,y:iHFE,xaxis:'x10',yaxis:'y13',marker:{symbol:'circle-dot',size:13,color:wf,line:{width:2.2,color:'#a020c8'}}});
layout.legend={x:1485/W,y:1-962/H,xanchor:'left',yanchor:'top',bgcolor:'#fff',bordercolor:'#000',borderwidth:1.5,font:{family:F,size:17,color:'#000'},traceorder:'normal',entrywidth:243,entrywidthmode:'pixels',tracegroupgap:0};
layout.xaxis10=axis({domain:xd(1358.5,1766.3),range:[1.4,4],anchor:'y13',mirror:true,dtick:.5,tick0:0,tickformat:'.1f',ticklabelstandoff:-4,minor:minor(.25,0),title:tt('Cell votages (V)',13)});
layout.yaxis13=axis({domain:yd(961.5,1397),range:[30,100],anchor:'x10',mirror:true,dtick:10,tick0:0,minor:minor(5,0)});
annotations.push(ann('FE (%)',1297,1180,30,'#000',{textangle:-90}));
const ix=z=>1270+z/2.587,iy=z=>950+z/2.947;
[['R50',825,693],['R42',1135,818],['R29',735,832],['R36',622,858],['R51',605,950],['R48',765,965],['R44',743,1053],['R41',538,1104],['R32',526,1236],['R43',714,1283],['R33',1020,1272]].forEach(a=>annotations.push(ann(a[0],ix(a[1]),iy(a[2]),17,'#222')));
annotations.push(ann('EE (%)',1848,1175,30,'#000',{textangle:90}));
shapes.push(seg(1788.5,961.5,1788.5,1397,'#000',2));
annotations.push(letter('i',1299,975));

layout.shapes=shapes;layout.annotations=annotations;
Plotly.newPlot('p',traces,layout,{displayModeBar:false,staticPlot:true});
</script></body></html>
